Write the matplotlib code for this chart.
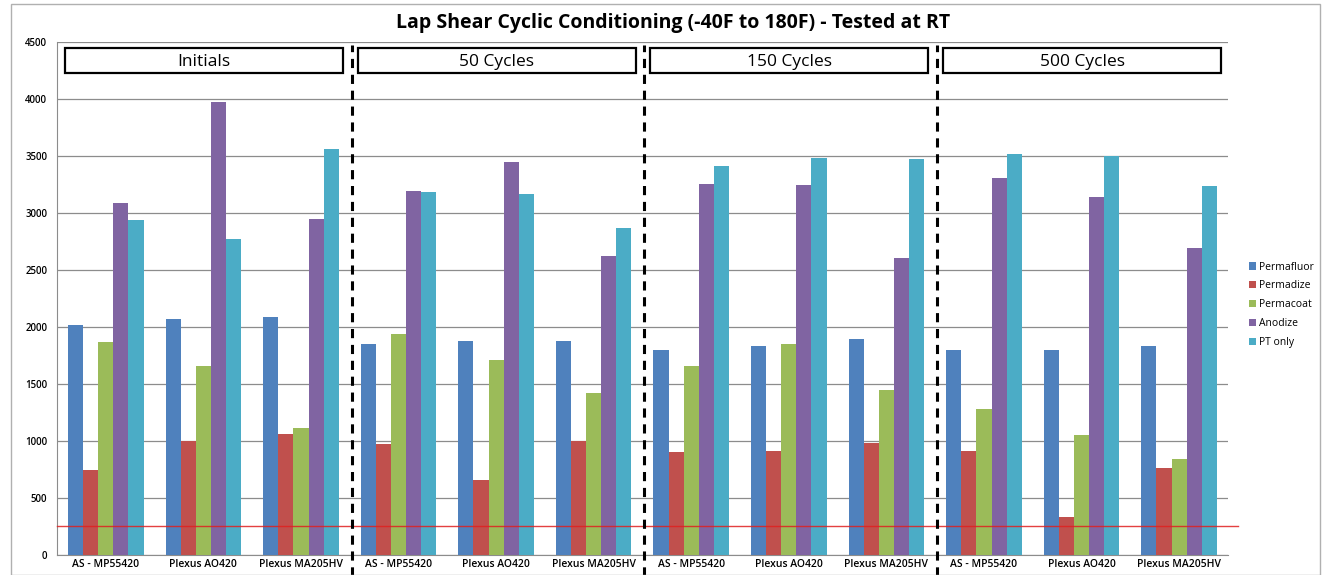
import numpy as np
import matplotlib.pyplot as plt
from matplotlib.patches import Rectangle

plt.rcParams['font.family'] = ['Open Sans', 'DejaVu Sans']

# adhesives tested at each conditioning stage
adhesives = ['AS - MP55420', 'Plexus AO420', 'Plexus MA205HV']
stages = ['Initials', '50 Cycles', '150 Cycles', '500 Cycles']
treatments = ['Permafluor', 'Permadize', 'Permacoat', 'Anodize', 'PT only']
colors = ['#4F81BD', '#C0504D', '#9BBB59', '#8064A2', '#4BACC6']

# lap shear strength, one list per treatment (stage-major, 3 adhesives per stage)
permafluor = [2020, 2070, 2090, 1850, 1880, 1880, 1795, 1835, 1895, 1800, 1800, 1830]
permadize = [750, 1000, 1065, 975, 660, 1000, 905, 910, 980, 910, 335, 760]
permacoat = [1870, 1660, 1115, 1935, 1710, 1425, 1660, 1855, 1445, 1285, 1050, 840]
anodize = [3090, 3970, 2945, 3190, 3445, 2620, 3255, 3250, 2610, 3310, 3140, 2695]
pt_only = [2940, 2775, 3560, 3185, 3170, 2870, 3410, 3480, 3470, 3515, 3500, 3240]
series = [permafluor, permadize, permacoat, anodize, pt_only]

min_strength = 250

labels = adhesives * len(stages)
x = np.arange(len(labels))
width = 0.155

fig = plt.figure(figsize=(13.23, 5.75), dpi=100)
ax = fig.add_axes([0.0431, 0.0348, 0.885, 0.892])

for i, (name, vals, c) in enumerate(zip(treatments, series, colors)):
    ax.bar(x + (i - 2) * width, vals, width, color=c, label=name, zorder=3)

ax.set_xlim(-0.5, len(labels) - 0.5)
ax.set_ylim(0, 4500)
ax.set_yticks(np.arange(0, 4501, 500))
ax.set_xticks(x)
ax.set_xticklabels(labels, fontsize=7.5)
ax.tick_params(axis='y', labelsize=7, length=0, pad=7)
ax.tick_params(axis='x', length=0, pad=3)
for lab in ax.get_yticklabels() + ax.get_xticklabels():
    lab.set_fontweight('semibold')
ax.grid(axis='y', color='#8c8c8c', linewidth=0.9, zorder=0)
for s in ['top', 'right']:
    ax.spines[s].set_visible(False)
for s in ['left', 'bottom']:
    ax.spines[s].set_color('#8c8c8c')

# minimum strength line
ax.plot([-0.5, len(labels) - 0.4], [min_strength, min_strength], color='#e02020',
        linewidth=1.0, alpha=0.85, clip_on=False, zorder=4)

# stage separators and header boxes
trans = ax.get_xaxis_transform()
for k in range(1, len(stages)):
    xb = k * len(adhesives) - 0.5 + 0.02
    ax.plot([xb, xb], [-0.045, 0.995], transform=trans, color='black',
            linewidth=2.2, linestyle=(0, (3, 2.2)), clip_on=False, zorder=5)
for k, st in enumerate(stages):
    x0 = k * len(adhesives) - 0.42
    x1 = x0 + 2.85
    ax.add_patch(Rectangle((x0, 0.939), x1 - x0, 0.05, transform=trans,
                           facecolor='white', edgecolor='black', linewidth=1.6,
                           clip_on=False, zorder=5))
    ax.text((x0 + x1) / 2, 0.962, st, transform=trans, ha='center', va='center',
            fontsize=12.5, zorder=6)

ax.set_title('Lap Shear Cyclic Conditioning (-40F to 180F) - Tested at RT',
             fontsize=14, fontweight='bold', pad=10, x=0.526)

fig.legend(loc='center left', bbox_to_anchor=(0.937, 0.47), fontsize=7.5,
           frameon=False, handlelength=0.7, handleheight=0.7, labelspacing=0.75,
           handletextpad=0.3)

# chart border
fig.add_artist(Rectangle((0.008, 0.0), 0.99, 0.993, transform=fig.transFigure,
                         fill=False, edgecolor='#b0b0b0', linewidth=1.0))

fig.savefig('out.png', dpi=100)
